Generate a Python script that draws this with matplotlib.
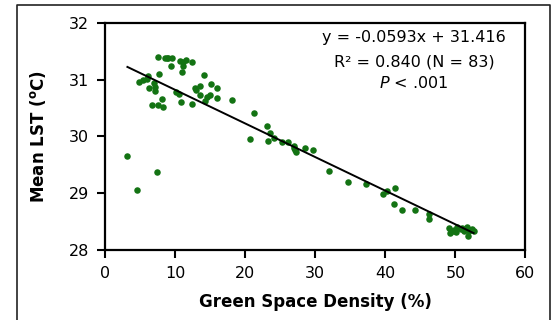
import numpy as np
import matplotlib
matplotlib.use("Agg")
import matplotlib.pyplot as plt
from matplotlib.lines import Line2D

# Data titik
green_density = [3.2, 4.5, 7.4, 4.8, 5.4, 6.2, 6.3, 6.7, 7.1, 7.2,
                 7.6, 7.7, 7.6, 8.1, 8.3, 8.5, 9.5, 9.4, 10.1, 10.5,
                 10.7, 11.0, 11.2, 11.2, 10.9, 12.4, 12.4, 12.9, 13.5, 13.5,
                 14.1, 14.3, 15.1, 15.0, 16.0, 16.0, 18.1, 21.3, 20.7, 23.1,
                 23.5, 23.3, 24.1, 25.3, 26.1, 26.9, 27.1, 27.3, 28.5, 29.7,
                 31.9, 34.7, 37.2, 39.6, 40.3, 41.4, 41.3, 42.4, 44.3, 46.2,
                 46.2, 49.1, 49.2, 49.6, 50.1, 50.3, 50.8, 51.3, 51.7, 51.8,
                 52.3, 52.6, 9.0, 11.5, 6.0, 7.0, 14.5, 13.0, 49.8, 51.0,
                 27.0, 8.8, 52.0]
mean_lst = [29.65, 29.06, 29.38, 30.96, 30.99, 31.06, 30.86, 30.56, 30.88, 30.80,
            31.40, 31.10, 30.56, 30.66, 30.52, 31.39, 31.39, 31.24, 30.78, 30.75,
            31.33, 31.14, 31.31, 31.24, 30.60, 31.31, 30.58, 30.86, 30.89, 30.74,
            31.08, 30.62, 30.92, 30.74, 30.85, 30.68, 30.65, 30.42, 29.96, 30.19,
            30.06, 29.92, 29.97, 29.91, 29.90, 29.83, 29.76, 29.72, 29.79, 29.76,
            29.40, 29.19, 29.17, 28.99, 29.04, 29.09, 28.81, 28.71, 28.71, 28.64,
            28.55, 28.39, 28.29, 28.34, 28.31, 28.41, 28.37, 28.34, 28.41, 28.25,
            28.37, 28.34, 31.38, 31.35, 31.02, 30.95, 30.70, 30.82, 28.36, 28.38,
            29.80, 31.38, 28.33]

# Garis regresi
slope = -0.0593
intercept = 31.416
x_fit = np.array([min(green_density), max(green_density)])
y_fit = slope * x_fit + intercept

plt.rcParams['font.family'] = ['DejaVu Sans']

fig = plt.figure(figsize=(5.54, 3.2), dpi=100)
ax = fig.add_axes([0.1895, 0.219, 0.759, 0.709])

ax.scatter(green_density, mean_lst, s=22, color='#137313', linewidths=0, zorder=3)
ax.plot(x_fit, y_fit, color='black', linewidth=1.4, zorder=4)

ax.set_xlim(0, 60)
ax.set_ylim(28, 32)
ax.set_xticks(np.arange(0, 61, 10))
ax.set_yticks(np.arange(28, 33, 1))
ax.tick_params(direction='out', length=5.5, width=1.5, labelsize=11.5, colors='black')
ax.tick_params(axis='x', pad=6)
ax.tick_params(axis='y', pad=6)

for s in ax.spines.values():
    s.set_linewidth(1.6)

ax.set_xlabel('Green Space Density (%)', fontsize=12, fontweight='bold', labelpad=9)
ax.set_ylabel('Mean LST ($\\mathbf{^o}$C)', fontsize=12, fontweight='bold', labelpad=15)

# Teks persamaan
tx = 0.735
ax.text(tx, 0.938, 'y = -0.0593x + 31.416', transform=ax.transAxes, ha='center', va='center', fontsize=11.5)
ax.text(tx, 0.828, 'R² = 0.840 (N = 83)', transform=ax.transAxes, ha='center', va='center', fontsize=11.5)
ax.text(tx, 0.736, '$\\it{P}$ < .001', transform=ax.transAxes, ha='center', va='center', fontsize=11.5)

# Bingkai luar gambar
W, H = 554, 320
fx = lambda p: p / W
fy = lambda p: 1 - p / H
fig.add_artist(Line2D([fx(16.5), fx(16.5), fx(550), fx(550)], [0, fy(5), fy(5), 0],
                      transform=fig.transFigure, color='#222222', linewidth=1.2))

fig.savefig('out.png', dpi=100)
